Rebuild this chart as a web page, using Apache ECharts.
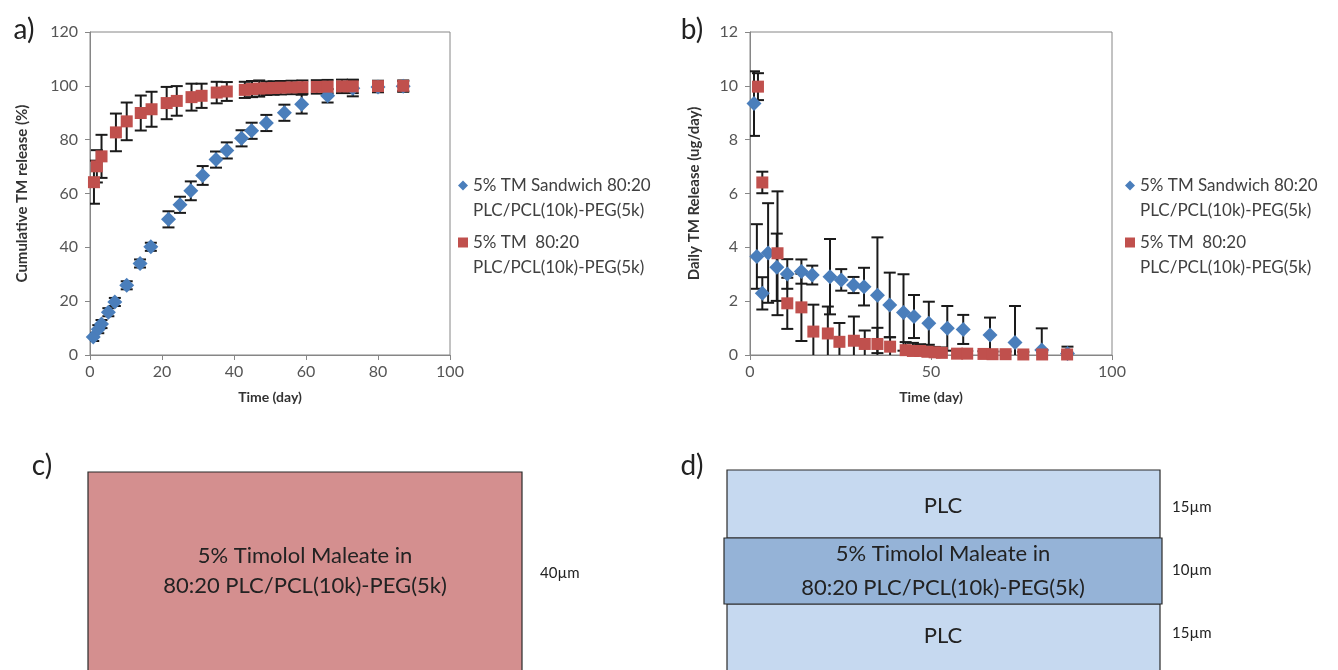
<!DOCTYPE html>
<html>
<head>
<meta charset="utf-8">
<script src="https://cdn.jsdelivr.net/npm/echarts@6/dist/echarts.min.js"></script>
<style>
  html, body { margin: 0; padding: 0; background: #fff; }
  #chart { width: 1338px; height: 670px; }
</style>
</head>
<body>
<div id="chart"></div>
<script>
// series names, as in the legends
const NAME_SANDWICH = '5% TM Sandwich 80:20\nPLC/PCL(10k)-PEG(5k)';
const NAME_SINGLE = '5% TM  80:20\nPLC/PCL(10k)-PEG(5k)';

// a) cumulative release (%)
const cumSandwichDays = [0.9, 2.3, 3.2, 5.1, 6.9, 10.2, 13.9, 16.9, 21.8, 25, 28, 31.3, 35, 38, 42.1, 44.9, 49, 54, 58.8, 66, 73, 80, 87];
const cumSandwichVals = [6.7, 9.6, 11.5, 15.9, 19.7, 25.9, 34, 40.2, 50.4, 55.8, 61, 66.7, 72.6, 76, 80.5, 83.3, 86.2, 90, 93.2, 96.3, 99.1, 99.6, 99.8];
const cumSandwichErr = [1.5, 1.5, 1.5, 1.5, 1.5, 1.5, 1.5, 1.5, 3, 3, 3.5, 3.5, 3, 3, 3, 3, 3, 3, 3.5, 2.5, 3, 2, 2];

const cumSingleDays = [1.1, 1.9, 3.2, 7.2, 10.2, 14.1, 17.1, 21.3, 24.1, 28.2, 31, 35.2, 38, 43, 45, 47, 49, 51, 53, 56, 59, 63, 66, 70, 73, 80, 87];
const cumSingleVals = [64.2, 70.1, 73.8, 82.7, 86.8, 89.9, 91.3, 93.6, 94.4, 95.8, 96.3, 97.5, 97.9, 98.5, 98.8, 99, 99.1, 99.2, 99.3, 99.4, 99.5, 99.6, 99.7, 99.8, 99.8, 99.9, 100];
const cumSingleErr = [8, 6, 8, 7, 7, 6.5, 6.5, 6, 5.5, 5, 4.5, 4, 3.5, 3, 3, 3, 2.5, 2.5, 2.5, 2.5, 2.5, 2.5, 2.5, 2.5, 2.5, 2, 2];

// b) daily release (ug/day)
const dailySandwichDays = [1.1, 1.9, 3.4, 5.0, 7.4, 10.3, 14.2, 17.2, 22.1, 25.2, 28.6, 31.5, 35.2, 38.6, 42.4, 45.3, 49.4, 54.5, 58.9, 66.3, 73.2, 80.6, 87.7];
const dailySandwichVals = [9.34, 3.66, 2.29, 3.79, 3.26, 3.01, 3.1, 2.97, 2.91, 2.79, 2.6, 2.54, 2.22, 1.86, 1.58, 1.43, 1.18, 0.99, 0.95, 0.74, 0.46, 0.19, 0.06];
const dailySandwichErr = [1.2, 1.2, 0.6, 1.85, 1.25, 0.55, 0.45, 0.35, 1.4, 0.4, 0.3, 0.7, 2.15, 1.2, 1.42, 0.8, 0.8, 0.83, 0.54, 0.65, 1.36, 0.8, 0.25];

const dailySingleDays = [2.2, 3.4, 7.6, 10.3, 14.2, 17.5, 21.5, 24.7, 28.7, 31.7, 35.2, 38.7, 43, 45, 47, 49, 51, 53, 57.2, 60, 64.5, 67, 70.6, 75.5, 80.7, 87.6];
const dailySingleVals = [9.97, 6.41, 3.78, 1.92, 1.77, 0.87, 0.8, 0.49, 0.53, 0.41, 0.41, 0.31, 0.18, 0.15, 0.15, 0.12, 0.1, 0.08, 0.05, 0.05, 0.04, 0.03, 0.03, 0.02, 0.02, 0.02];
const dailySingleErr = [0.5, 0.4, 2.3, 0.95, 1.25, 1.0, 1.0, 0.7, 0.9, 0.5, 0.6, 0.35, 0.3, 0.3, 0.25, 0.2, 0.2, 0.2, 0.15, 0.1, 0.1, 0.1, 0.1, 0.1, 0.1, 0.1];

const BLUE = '#4a7ebb';
const RED = '#c0504d';
const FONT = 'Lato';

const zip = (xs, ys, es) => xs.map((x, i) => es ? [x, ys[i], es[i]] : [x, ys[i]]);

function errorBar(params, api) {
  const x = api.value(0), y = api.value(1), e = api.value(2);
  const hi = api.coord([x, y + e]);
  const lo = api.coord([x, y - e]);
  const st = { stroke: '#1a1a1a', lineWidth: 2 };
  const w = 6;
  return {
    type: 'group',
    children: [
      { type: 'line', shape: { x1: hi[0], y1: hi[1], x2: lo[0], y2: lo[1] }, style: st },
      { type: 'line', shape: { x1: hi[0] - w, y1: hi[1], x2: hi[0] + w, y2: hi[1] }, style: st },
      { type: 'line', shape: { x1: lo[0] - w, y1: lo[1], x2: lo[0] + w, y2: lo[1] }, style: st }
    ]
  };
}

function errSeries(idx, data) {
  return { type: 'custom', xAxisIndex: idx, yAxisIndex: idx, renderItem: errorBar, data: data,
           encode: { x: 0, y: 1 }, clip: true, z: 1, silent: true };
}

function axisX(interval) {
  return {
    type: 'value', min: 0, max: 100, interval: interval,
    axisLine: { show: true, lineStyle: { color: '#868686' } },
    axisTick: { show: true, length: 5, lineStyle: { color: '#868686' } },
    splitLine: { show: false },
    axisLabel: { fontSize: 16, color: '#555', fontFamily: FONT, margin: 9 },
    name: 'Time (day)', nameLocation: 'middle', nameGap: 35,
    nameTextStyle: { fontSize: 14, fontWeight: 'bold', color: '#333', fontFamily: FONT }
  };
}

function axisY(max, interval, name) {
  return {
    type: 'value', min: 0, max: max, interval: interval,
    axisLine: { show: true, lineStyle: { color: '#868686' } },
    axisTick: { show: true, length: 5, lineStyle: { color: '#868686' } },
    splitLine: { show: false },
    axisLabel: { fontSize: 16, color: '#555', fontFamily: FONT, margin: 12 },
    name: name, nameLocation: 'middle', nameGap: 60,
    nameTextStyle: { fontSize: 15, fontWeight: 'bold', color: '#333', fontFamily: FONT }
  };
}

function legendItem(left, top, name, icon) {
  return {
    orient: 'vertical', left: left, top: top, padding: 0,
    data: [name], icon: icon, itemWidth: 10, itemHeight: 10,
    formatter: n => '\n' + n, selectedMode: false,
    textStyle: { fontSize: 17, lineHeight: 25, color: '#404040', fontFamily: FONT }
  };
}

function label(text, x, y, size, align) {
  return { type: 'text', x: x, y: y,
           style: { text: text, fontSize: size, fontFamily: FONT, fill: '#222',
                    align: align || 'center', verticalAlign: 'middle' } };
}

function box(x, y, w, h, fill) {
  return { type: 'rect', shape: { x: x, y: y, width: w, height: h },
           style: { fill: fill, stroke: '#2b2b2b', lineWidth: 1.2 } };
}

const chart = echarts.init(document.getElementById('chart'), null, { renderer: 'canvas' });

chart.setOption({
  animation: false,
  backgroundColor: '#fff',
  grid: [
    { left: 90, top: 32, width: 360, height: 323, show: true, borderColor: '#868686', borderWidth: 1 },
    { left: 750, top: 32, width: 362, height: 323, show: true, borderColor: '#868686', borderWidth: 1 }
  ],
  xAxis: [Object.assign(axisX(20), { gridIndex: 0 }), Object.assign(axisX(50), { gridIndex: 1 })],
  yAxis: [
    Object.assign(axisY(120, 20, 'Cumulative TM release (%)'), { gridIndex: 0 }),
    Object.assign(axisY(12, 2, 'Daily TM Release (ug/day)'), { gridIndex: 1, nameGap: 48 })
  ],
  legend: [
    legendItem(458, 148, NAME_SANDWICH, 'diamond'),
    legendItem(458, 205, NAME_SINGLE, 'rect'),
    legendItem(1125, 148, NAME_SANDWICH, 'diamond'),
    legendItem(1125, 205, NAME_SINGLE, 'rect')
  ],
  series: [
    errSeries(0, zip(cumSandwichDays, cumSandwichVals, cumSandwichErr)),
    { name: NAME_SANDWICH, type: 'scatter', xAxisIndex: 0, yAxisIndex: 0, symbol: 'diamond', symbolSize: 15,
      itemStyle: { color: BLUE, opacity: 1 }, z: 2, data: zip(cumSandwichDays, cumSandwichVals) },
    errSeries(0, zip(cumSingleDays, cumSingleVals, cumSingleErr)),
    { name: NAME_SINGLE, type: 'scatter', xAxisIndex: 0, yAxisIndex: 0, symbol: 'rect', symbolSize: 12,
      itemStyle: { color: RED, opacity: 1 }, z: 3, data: zip(cumSingleDays, cumSingleVals) },

    errSeries(1, zip(dailySandwichDays, dailySandwichVals, dailySandwichErr)),
    { name: NAME_SANDWICH, type: 'scatter', xAxisIndex: 1, yAxisIndex: 1, symbol: 'diamond', symbolSize: 15,
      itemStyle: { color: BLUE, opacity: 1 }, z: 2, data: zip(dailySandwichDays, dailySandwichVals) },
    errSeries(1, zip(dailySingleDays, dailySingleVals, dailySingleErr)),
    { name: NAME_SINGLE, type: 'scatter', xAxisIndex: 1, yAxisIndex: 1, symbol: 'rect', symbolSize: 12,
      itemStyle: { color: RED, opacity: 1 }, z: 3, data: zip(dailySingleDays, dailySingleVals) }
  ],
  graphic: [
    label('a)', 24, 30, 28),
    label('b)', 692, 30, 28),
    label('c)', 42, 466, 28),
    label('d)', 692, 466, 28),

    box(88, 472, 434, 205, '#d48f8f'),
    label('5% Timolol Maleate in', 305, 556, 22),
    label('80:20 PLC/PCL(10k)-PEG(5k)', 305, 586, 22),
    label('40µm', 540, 573, 15, 'left'),

    box(727, 470, 433, 68, '#c6d9f0'),
    box(727, 604, 433, 73, '#c6d9f0'),
    box(724, 538, 438, 66, '#95b3d7'),
    label('PLC', 943, 506, 22),
    label('5% Timolol Maleate in', 943, 554, 22),
    label('80:20 PLC/PCL(10k)-PEG(5k)', 943, 588, 22),
    label('PLC', 943, 636, 22),
    label('15µm', 1172, 507, 15, 'left'),
    label('10µm', 1172, 570, 15, 'left'),
    label('15µm', 1172, 633, 15, 'left')
  ]
});
</script>
</body>
</html>
